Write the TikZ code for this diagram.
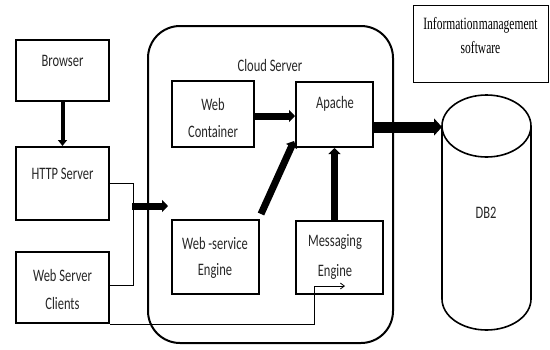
\documentclass[tikz,border=0pt]{standalone}
\usepackage{fontspec}
\usepackage{graphicx}
\setmainfont{Carlito}
\newfontfamily\tmsfont{Liberation Serif}
\usetikzlibrary{arrows.meta}
\newcommand{\sq}[1]{\scalebox{1}[1.4]{#1}}
\tikzset{
  boxnode/.style={draw, line width=2pt, inner sep=0pt, minimum width=#1},
  txt/.style={inner sep=0pt, font=\fontsize{12.5}{15}\selectfont, text=black!85},
  itxt/.style={inner sep=0pt, font=\tmsfont\fontsize{11.5}{14}\selectfont},
  thickarr/.style={line width=#1, -{Triangle[width=#1+5pt,length=6pt]}},
  thinline/.style={line width=0.8pt},
}
\begin{document}
\begin{tikzpicture}[x=1pt,y=-1pt]
\useasboundingbox (0,0) rectangle (550,349);
% cloud server
\node[draw, line width=2pt, rounded corners=32pt, minimum width=245pt, minimum height=317pt, inner sep=0pt] (cloud) at (270.5,184.5) {};
\node[txt] (cloudt) at (270,65) {\sq{Cloud Server}};
% left boxes
\node[boxnode=93pt, minimum height=61pt] (browser) at (62.5,70.5) {};
\node[txt] (browsert) at (62.5,61) {\sq{Browser}};
\node[boxnode=93pt, minimum height=73pt] (http) at (62.5,183.5) {};
\node[txt] (httpt) at (62.5,174) {\sq{HTTP Server}};
\node[boxnode=93pt, minimum height=71pt] (wsc) at (62.5,287.5) {};
\node[txt] (wsct1) at (62.5,275) {\sq{Web Server}};
\node[txt] (wsct2) at (62.5,303) {\sq{Clients}};
% inner boxes
\node[boxnode=82pt, minimum height=66pt] (wc) at (213,114) {};
\node[txt] (wct1) at (213,104) {\sq{Web}};
\node[txt] (wct2) at (213,132) {\sq{Container}};
\node[boxnode=77pt, minimum height=65pt] (apache) at (334.5,114.5) {};
\node[txt] (apachet) at (335,104) {\sq{Apache}};
\node[boxnode=87pt, minimum height=74pt] (wse) at (215.5,257) {};
\node[txt] (wset1) at (215,243) {\sq{Web -service}};
\node[txt] (wset2) at (215,271) {\sq{Engine}};
\node[boxnode=87pt, minimum height=73pt] (me) at (339.5,257.5) {};
\node[txt] (met1) at (335,242) {\sq{Messaging}};
\node[txt] (met2) at (335,272) {\sq{Engine}};
% info box
\node[draw, line width=1pt, minimum width=135pt, minimum height=77pt, inner sep=0pt] (info) at (480.5,43.5) {};
\node[itxt] (infot1) at (480.5,25) {\scalebox{1}[1.5]{Information\hspace{0.5pt}management}};
\node[itxt] (infot2) at (480.5,48) {\scalebox{1}[1.5]{software}};
% DB2 cylinder
\draw[line width=1.6pt] (442,126) -- (442,299) arc[start angle=180, end angle=360, x radius=44.5, y radius=-31] -- (531,126);
\draw[line width=1.6pt] (486.5,126) ellipse[x radius=44.5, y radius=31];
\node[txt] (db2t) at (486,213) {\sq{DB2}};
\coordinate (db2w) at (442,127);
% connectors
\draw[thickarr=4pt] (browser.south) -- (http.north);
\draw[thickarr=7pt] ([shift={(0,2)}]wc.east) -- ([shift={(0,1.5)}]apache.west);
\draw[thickarr=7pt] ([shift={(1,-5)}]wse.north east) -- ([shift={(-1,-7)}]apache.south west);
\draw[thickarr=7pt] (me.north -| apache.south) -- (apache.south);
\draw[line width=11pt, -{Triangle[width=17pt,length=8pt]}] (apache.east |- db2w) -- (db2w);
\coordinate (jt) at (133,183.5);
\coordinate (jb) at (133,285);
\draw[thinline] (http.east) -- (jt) -- (jb) -- (jb -| wsc.east);
\coordinate (ja) at (132,206);
\coordinate (jz) at (168,206);
\draw[thickarr=7pt] (ja) -- (jz);
\coordinate (bc) at (314,286);
\coordinate (be) at (345,286);
\draw[thinline, -{Straight Barb[length=4pt,width=6pt]}] (wsc.south east) -| (bc) -- (be);
\end{tikzpicture}
\end{document}
